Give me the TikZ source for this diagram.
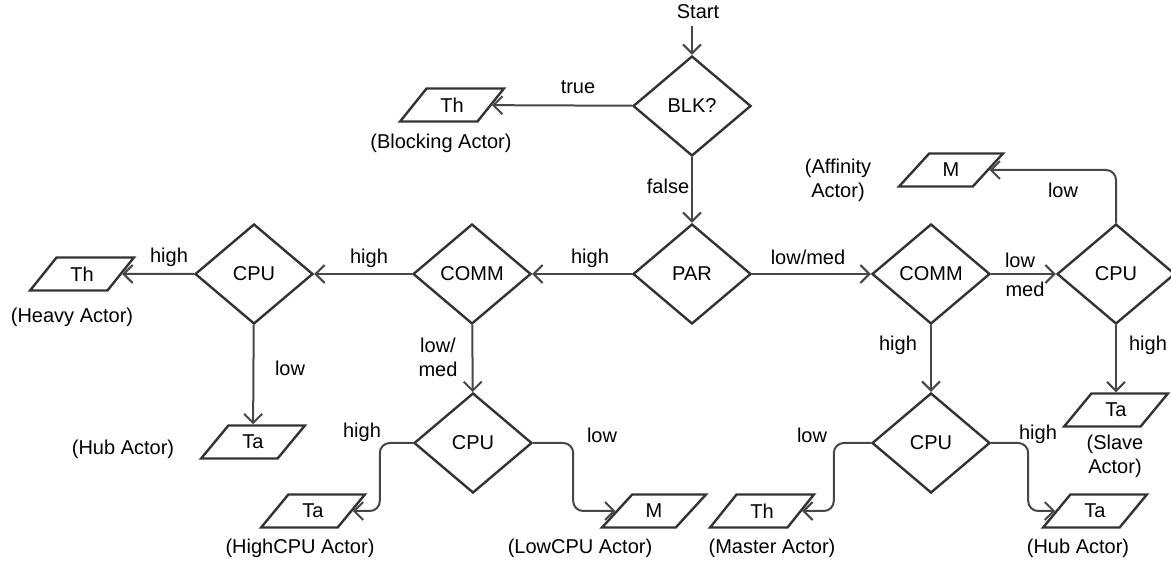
\documentclass[tikz,border=0pt]{standalone}
\usepackage{fontspec}
\setmainfont{Liberation Sans}
\usetikzlibrary{shapes.geometric,arrows.meta}
\tikzset{>={Straight Barb[length=4.5pt,width=9pt]}}

\begin{document}
\begin{tikzpicture}[x=0.5pt, y=-0.5pt, font=\fontsize{10}{12}\selectfont,
    decision/.style={draw=black!80, line width=1.2pt, diamond, minimum width=59pt, minimum height=50pt, inner sep=0pt},
    actor/.style={draw=black!80, line width=1.2pt, trapezium, trapezium left angle=50, trapezium right angle=130, trapezium stretches=true, minimum width=52pt, minimum height=16.5pt, inner sep=0pt},
    lbl/.style={align=center, inner sep=1pt},
    flow/.style={->, draw=black!72, line width=1pt}]
    \useasboundingbox (0,0) rectangle (1171,565);

    % Decisions
    \node (Start) at (698,12) {Start};
    \node (BLK) [decision] at (692,106) {BLK?};
    \node (PAR) [decision] at (692,274) {PAR};
    \node (CommL) [decision] at (472,274) {COMM};
    \node (CpuL) [decision] at (254,274) {CPU};
    \node (CpuM) [decision] at (473,443) {CPU};
    \node (CommR) [decision] at (931,274) {COMM};
    \node (CpuR) [decision] at (1116,274) {CPU};
    \node (CpuB) [decision] at (931,443) {CPU};

    % Actors
    \node (ThBlk) [actor] at (452,105) {Th};
    \node (MAff) [actor] at (951,170) {M};
    \node (ThHeavy) [actor] at (82,274) {Th};
    \node (TaHubL) [actor] at (253,442) {Ta};
    \node (TaHigh) [actor] at (313,511) {Ta};
    \node (MLow) [actor] at (654,511) {M};
    \node (ThMaster) [actor] at (762,511) {Th};
    \node (TaHubR) [actor] at (1095,511) {Ta};
    \node (TaSlave) [actor] at (1116,410) {Ta};

    % Actor names
    \node (nBlk) [lbl] at (441,143) {(Blocking Actor)};
    \node (nAff) [lbl] at (838,180) {(Affinity\\Actor)};
    \node (nHeavy) [lbl] at (72,317) {(Heavy Actor)};
    \node (nHubL) [lbl] at (123,449) {(Hub Actor)};
    \node (nHigh) [lbl] at (300,548) {(HighCPU Actor)};
    \node (nLow) [lbl] at (580,548) {(LowCPU Actor)};
    \node (nMaster) [lbl] at (772,548) {(Master Actor)};
    \node (nHubR) [lbl] at (1078,548) {(Hub Actor)};
    \node (nSlave) [lbl] at (1115,456) {(Slave\\Actor)};

    % Arrows
    \draw[flow] (Start.south -| BLK.north) -- (BLK);
    \draw[flow] (BLK) -- (ThBlk);
    \draw[flow] (BLK) -- (PAR);
    \draw[flow] (PAR) -- (CommL);
    \draw[flow] (CommL) -- (CpuL);
    \draw[flow] (CpuL) -- (ThHeavy);
    \draw[flow] (CpuL) -- (TaHubL);
    \draw[flow] (CommL) -- (CpuM);
    \draw[flow, rounded corners=5pt] (CpuM.west) -- ++(-33,0) |- (TaHigh.east);
    \draw[flow, rounded corners=5pt] (CpuM.east) -- ++(40,0) |- (MLow.west);
    \draw[flow] (PAR) -- (CommR);
    \draw[flow] (CommR) -- (CpuR);
    \draw[flow, rounded corners=5pt] (CpuR.north) |- (MAff.east);
    \draw[flow] (CpuR) -- (TaSlave);
    \draw[flow] (CommR) -- (CpuB);
    \draw[flow, rounded corners=5pt] (CpuB.west) -- ++(-37,0) |- (ThMaster.east);
    \draw[flow, rounded corners=5pt] (CpuB.east) -- ++(37,0) |- (TaHubR.west);

    % Edge labels
    \node (lTrue) [lbl] at (578,87) {true};
    \node (lFalse) [lbl] at (668,186) {false};
    \node (lHighA) [lbl] at (590,258) {high};
    \node (lHighB) [lbl] at (369,258) {high};
    \node (lHighC) [lbl] at (169,257) {high};
    \node (lLowA) [lbl] at (290,368) {low};
    \node (lLowMed) [lbl] at (438,357) {low/\\med};
    \node (lHighD) [lbl] at (362,432) {high};
    \node (lLowB) [lbl] at (602,435) {low};
    \node (lLowMedR) [lbl] at (808,257) {low/med};
    \node (lLowC) [lbl] at (1020,260) {low};
    \node (lMed) [lbl] at (1025,289) {med};
    \node (lLowD) [lbl] at (1063,190) {low};
    \node (lHighE) [lbl] at (898,345) {high};
    \node (lHighF) [lbl] at (1148,345) {high};
    \node (lLowE) [lbl] at (812,435) {low};
    \node (lHighG) [lbl] at (1038,434) {high};
\end{tikzpicture}
\end{document}
